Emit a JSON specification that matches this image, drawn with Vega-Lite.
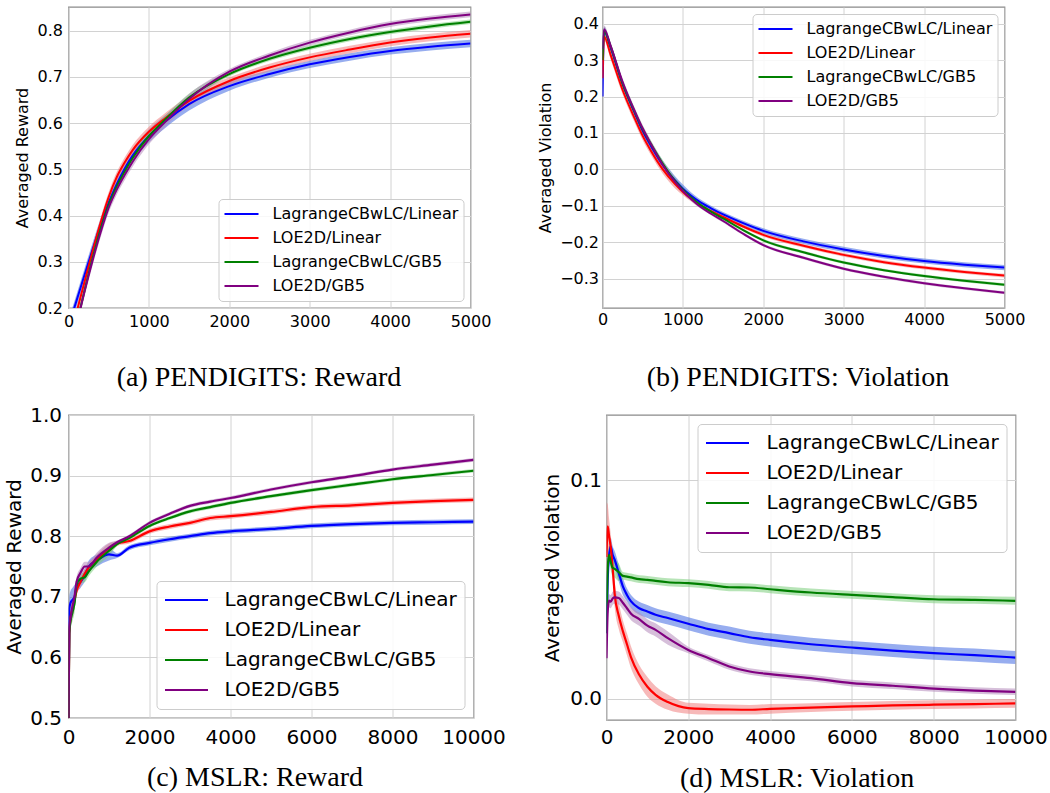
{
"$schema": "https://vega.github.io/schema/vega-lite/v6.json",
"background": "white",
"padding": {"left": 3.5, "top": 6, "right": 0, "bottom": 0},
"columns": 1,
"spacing": 12,
"align": "none",
"config": {
  "view": {"stroke": "#8a8a8a", "strokeWidth": 1.3},
  "axis": {"grid": true, "gridColor": "#d2d2d2", "gridWidth": 1, "domain": false, "ticks": false, "tickSize": 0, "labelFont": "DejaVu Sans", "titleFont": "DejaVu Sans", "labelColor": "#000000", "titleColor": "#000000", "titleFontWeight": "normal", "labelFlush": false, "labelOverlap": false},
  "legend": {"labelFont": "DejaVu Sans", "labelColor": "#000000", "symbolType": "stroke", "labelLimit": 500, "fillColor": "rgba(255,255,255,0.85)", "strokeColor": "#cccccc", "cornerRadius": 4}
},
"concat": [
{"hconcat": [
{
 "width": 402, "height": 301,
 "data": {"name": "a"},
 "encoding": {"x": {"field": "x", "type": "quantitative", "scale": {"domain": [0, 5000], "nice": false, "zero": false},
   "axis": {"values": [0,1000,2000,3000,4000,5000], "format": "d", "labelFontSize": 16, "labelPadding": 5, "title": "(a) PENDIGITS: Reward", "titleFont": "Liberation Serif", "titleFontSize": 28, "titlePadding": 34, "titleX": 190}}},
 "layer": [
  {"mark": {"type": "area", "clip": true, "interpolate": "monotone", "fillOpacity": 0.55},
   "encoding": {"y": {"field": "lo", "type": "quantitative", "scale": {"domain": [0.2, 0.851], "nice": false, "zero": false},
     "axis": {"values": [0.2,0.3,0.4,0.5,0.6,0.7,0.8], "format": ".1f", "labelFontSize": 16, "labelPadding": 6, "title": "Averaged Reward", "titleFontSize": 16, "titlePadding": 6.6}},
     "y2": {"field": "hi"},
     "fill": {"field": "s", "type": "nominal", "scale": {"domain": ["LagrangeCBwLC/Linear","LOE2D/Linear","LagrangeCBwLC/GB5","LOE2D/GB5"], "range": ["#4169e1","#f08080","#7ccd7c","#b58bbb"]}, "legend": null}}},
  {"mark": {"type": "line", "clip": true, "interpolate": "monotone", "strokeWidth": 2},
   "encoding": {"y": {"field": "y", "type": "quantitative", "scale": {"domain": [0.2, 0.851], "nice": false, "zero": false},
     "axis": {"values": [0.2,0.3,0.4,0.5,0.6,0.7,0.8], "format": ".1f", "labelFontSize": 16, "labelPadding": 6, "title": "Averaged Reward", "titleFontSize": 16, "titlePadding": 6.6}},
     "stroke": {"field": "s", "type": "nominal", "scale": {"domain": ["LagrangeCBwLC/Linear","LOE2D/Linear","LagrangeCBwLC/GB5","LOE2D/GB5"], "range": ["#0000ff","#ff0000","#008000","#800080"]},
       "legend": {"title": null, "orient": "bottom-right", "offset": 7, "labelFontSize": 16, "symbolSize": 1156, "symbolStrokeWidth": 2, "labelOffset": 13, "clipHeight": 20, "rowPadding": 4, "padding": 5}}}}
 ]
},
{
 "width": 402, "height": 301,
 "data": {"name": "b"},
 "encoding": {"x": {"field": "x", "type": "quantitative", "scale": {"domain": [0, 5000], "nice": false, "zero": false},
   "axis": {"values": [0,1000,2000,3000,4000,5000], "format": "d", "labelFontSize": 16, "labelPadding": 3, "title": "(b) PENDIGITS: Violation", "titleFont": "Liberation Serif", "titleFontSize": 28, "titlePadding": 36, "titleX": 195}}},
 "layer": [
  {"mark": {"type": "area", "clip": true, "interpolate": "monotone", "fillOpacity": 0.55},
   "encoding": {"y": {"field": "lo", "type": "quantitative", "scale": {"domain": [-0.381, 0.446], "nice": false, "zero": false},
     "axis": {"values": [-0.3,-0.2,-0.1,0,0.1,0.2,0.3,0.4], "format": ".1f", "labelExpr": "replace(datum.label, '-', '−')", "labelFontSize": 16, "labelPadding": 4, "title": "Averaged Violation", "titleFontSize": 16, "titlePadding": 6}},
     "y2": {"field": "hi"},
     "fill": {"field": "s", "type": "nominal", "scale": {"domain": ["LagrangeCBwLC/Linear","LOE2D/Linear","LagrangeCBwLC/GB5","LOE2D/GB5"], "range": ["#4169e1","#f08080","#7ccd7c","#b58bbb"]}, "legend": null}}},
  {"mark": {"type": "line", "clip": true, "interpolate": "monotone", "strokeWidth": 2},
   "encoding": {"y": {"field": "y", "type": "quantitative", "scale": {"domain": [-0.381, 0.446], "nice": false, "zero": false},
     "axis": {"values": [-0.3,-0.2,-0.1,0,0.1,0.2,0.3,0.4], "format": ".1f", "labelExpr": "replace(datum.label, '-', '−')", "labelFontSize": 16, "labelPadding": 4, "title": "Averaged Violation", "titleFontSize": 16, "titlePadding": 6}},
     "stroke": {"field": "s", "type": "nominal", "scale": {"domain": ["LagrangeCBwLC/Linear","LOE2D/Linear","LagrangeCBwLC/GB5","LOE2D/GB5"], "range": ["#0000ff","#ff0000","#008000","#800080"]},
       "legend": {"title": null, "orient": "top-right", "offset": 7, "labelFontSize": 16, "symbolSize": 1156, "symbolStrokeWidth": 2, "labelOffset": 13, "clipHeight": 20, "rowPadding": 4, "padding": 5}}}}
 ]
}
], "spacing": 44},
{"hconcat": [
{
 "width": 405, "height": 303,
 "data": {"name": "c"},
 "encoding": {"x": {"field": "x", "type": "quantitative", "scale": {"domain": [0, 10000], "nice": false, "zero": false},
   "axis": {"values": [0,2000,4000,6000,8000,10000], "format": "d", "labelFontSize": 20, "labelPadding": 9, "title": "(c) MSLR: Reward", "titleFont": "Liberation Serif", "titleFontSize": 28, "titlePadding": 16, "titleX": 186}}},
 "layer": [
  {"mark": {"type": "area", "clip": true, "interpolate": "monotone", "fillOpacity": 0.55},
   "encoding": {"y": {"field": "lo", "type": "quantitative", "scale": {"domain": [0.5, 1.0], "nice": false, "zero": false},
     "axis": {"values": [0.5,0.6,0.7,0.8,0.9,1.0], "format": ".1f", "labelFontSize": 20, "labelPadding": 7, "title": "Averaged Reward", "titleFontSize": 20, "titlePadding": 5.5}},
     "y2": {"field": "hi"},
     "fill": {"field": "s", "type": "nominal", "scale": {"domain": ["LagrangeCBwLC/Linear","LOE2D/Linear","LagrangeCBwLC/GB5","LOE2D/GB5"], "range": ["#4169e1","#f08080","#7ccd7c","#b58bbb"]}, "legend": null}}},
  {"mark": {"type": "line", "clip": true, "interpolate": "monotone", "strokeWidth": 2.2},
   "encoding": {"y": {"field": "y", "type": "quantitative", "scale": {"domain": [0.5, 1.0], "nice": false, "zero": false},
     "axis": {"values": [0.5,0.6,0.7,0.8,0.9,1.0], "format": ".1f", "labelFontSize": 20, "labelPadding": 7, "title": "Averaged Reward", "titleFontSize": 20, "titlePadding": 5.5}},
     "stroke": {"field": "s", "type": "nominal", "scale": {"domain": ["LagrangeCBwLC/Linear","LOE2D/Linear","LagrangeCBwLC/GB5","LOE2D/GB5"], "range": ["#0000ff","#ff0000","#008000","#800080"]},
       "legend": {"title": null, "orient": "bottom-right", "offset": 9, "labelFontSize": 20, "symbolSize": 1849, "symbolStrokeWidth": 2.2, "labelOffset": 15, "clipHeight": 24, "rowPadding": 6, "padding": 7}}}}
 ]
},
{
 "width": 409, "height": 305,
 "data": {"name": "d"},
 "encoding": {"x": {"field": "x", "type": "quantitative", "scale": {"domain": [0, 10000], "nice": false, "zero": false},
   "axis": {"values": [0,2000,4000,6000,8000,10000], "format": "d", "labelFontSize": 20, "labelPadding": 7, "title": "(d) MSLR: Violation", "titleFont": "Liberation Serif", "titleFontSize": 28, "titlePadding": 17, "titleX": 190}}},
 "layer": [
  {"mark": {"type": "area", "clip": true, "interpolate": "monotone", "fillOpacity": 0.55},
   "encoding": {"y": {"field": "lo", "type": "quantitative", "scale": {"domain": [-0.0097, 0.130], "nice": false, "zero": false},
     "axis": {"values": [0, 0.1], "format": ".1f", "labelFontSize": 20, "labelPadding": 5, "title": "Averaged Violation", "titleFontSize": 20, "titlePadding": 7}},
     "y2": {"field": "hi"},
     "fill": {"field": "s", "type": "nominal", "scale": {"domain": ["LagrangeCBwLC/Linear","LOE2D/Linear","LagrangeCBwLC/GB5","LOE2D/GB5"], "range": ["#4169e1","#f08080","#7ccd7c","#b58bbb"]}, "legend": null}}},
  {"mark": {"type": "line", "clip": true, "interpolate": "monotone", "strokeWidth": 2.2},
   "encoding": {"y": {"field": "y", "type": "quantitative", "scale": {"domain": [-0.0097, 0.130], "nice": false, "zero": false},
     "axis": {"values": [0, 0.1], "format": ".1f", "labelFontSize": 20, "labelPadding": 5, "title": "Averaged Violation", "titleFontSize": 20, "titlePadding": 7}},
     "stroke": {"field": "s", "type": "nominal", "scale": {"domain": ["LagrangeCBwLC/Linear","LOE2D/Linear","LagrangeCBwLC/GB5","LOE2D/GB5"], "range": ["#0000ff","#ff0000","#008000","#800080"]},
       "legend": {"title": null, "orient": "top-right", "offset": 9, "labelFontSize": 20, "symbolSize": 1849, "symbolStrokeWidth": 2.2, "labelOffset": 16, "clipHeight": 24, "rowPadding": 6, "padding": 7}}}}
 ]
}
], "spacing": 35}
],
"datasets": {
"a": [
{"s":"LagrangeCBwLC/Linear","x":0,"y":0.16,"lo":0.146,"hi":0.174},
{"s":"LagrangeCBwLC/Linear","x":100,"y":0.216,"lo":0.202,"hi":0.23},
{"s":"LagrangeCBwLC/Linear","x":200,"y":0.272,"lo":0.258,"hi":0.286},
{"s":"LagrangeCBwLC/Linear","x":300,"y":0.327,"lo":0.313,"hi":0.341},
{"s":"LagrangeCBwLC/Linear","x":400,"y":0.38,"lo":0.366,"hi":0.394},
{"s":"LagrangeCBwLC/Linear","x":500,"y":0.428,"lo":0.414,"hi":0.442},
{"s":"LagrangeCBwLC/Linear","x":600,"y":0.468,"lo":0.454,"hi":0.482},
{"s":"LagrangeCBwLC/Linear","x":700,"y":0.502,"lo":0.488,"hi":0.516},
{"s":"LagrangeCBwLC/Linear","x":800,"y":0.53,"lo":0.516,"hi":0.544},
{"s":"LagrangeCBwLC/Linear","x":1000,"y":0.572,"lo":0.558,"hi":0.586},
{"s":"LagrangeCBwLC/Linear","x":1200,"y":0.603,"lo":0.589,"hi":0.617},
{"s":"LagrangeCBwLC/Linear","x":1500,"y":0.641,"lo":0.627,"hi":0.655},
{"s":"LagrangeCBwLC/Linear","x":2000,"y":0.68,"lo":0.67,"hi":0.69},
{"s":"LagrangeCBwLC/Linear","x":2500,"y":0.706,"lo":0.698,"hi":0.714},
{"s":"LagrangeCBwLC/Linear","x":3000,"y":0.727,"lo":0.719,"hi":0.735},
{"s":"LagrangeCBwLC/Linear","x":3500,"y":0.743,"lo":0.735,"hi":0.751},
{"s":"LagrangeCBwLC/Linear","x":4000,"y":0.756,"lo":0.748,"hi":0.764},
{"s":"LagrangeCBwLC/Linear","x":4500,"y":0.765,"lo":0.757,"hi":0.773},
{"s":"LagrangeCBwLC/Linear","x":5000,"y":0.772,"lo":0.764,"hi":0.78},
{"s":"LOE2D/Linear","x":0,"y":0.123,"lo":0.112,"hi":0.134},
{"s":"LOE2D/Linear","x":100,"y":0.19,"lo":0.179,"hi":0.201},
{"s":"LOE2D/Linear","x":200,"y":0.257,"lo":0.246,"hi":0.268},
{"s":"LOE2D/Linear","x":300,"y":0.323,"lo":0.312,"hi":0.334},
{"s":"LOE2D/Linear","x":400,"y":0.385,"lo":0.374,"hi":0.396},
{"s":"LOE2D/Linear","x":500,"y":0.44,"lo":0.429,"hi":0.451},
{"s":"LOE2D/Linear","x":600,"y":0.483,"lo":0.472,"hi":0.494},
{"s":"LOE2D/Linear","x":700,"y":0.515,"lo":0.504,"hi":0.526},
{"s":"LOE2D/Linear","x":800,"y":0.542,"lo":0.531,"hi":0.553},
{"s":"LOE2D/Linear","x":1000,"y":0.581,"lo":0.57,"hi":0.592},
{"s":"LOE2D/Linear","x":1200,"y":0.61,"lo":0.599,"hi":0.621},
{"s":"LOE2D/Linear","x":1500,"y":0.648,"lo":0.637,"hi":0.659},
{"s":"LOE2D/Linear","x":2000,"y":0.691,"lo":0.683,"hi":0.699},
{"s":"LOE2D/Linear","x":2500,"y":0.72,"lo":0.712,"hi":0.728},
{"s":"LOE2D/Linear","x":3000,"y":0.742,"lo":0.734,"hi":0.75},
{"s":"LOE2D/Linear","x":3500,"y":0.759,"lo":0.751,"hi":0.767},
{"s":"LOE2D/Linear","x":4000,"y":0.774,"lo":0.766,"hi":0.782},
{"s":"LOE2D/Linear","x":4500,"y":0.785,"lo":0.777,"hi":0.793},
{"s":"LOE2D/Linear","x":5000,"y":0.793,"lo":0.785,"hi":0.801},
{"s":"LagrangeCBwLC/GB5","x":0,"y":0.092,"lo":0.083,"hi":0.101},
{"s":"LagrangeCBwLC/GB5","x":100,"y":0.165,"lo":0.156,"hi":0.174},
{"s":"LagrangeCBwLC/GB5","x":200,"y":0.238,"lo":0.229,"hi":0.247},
{"s":"LagrangeCBwLC/GB5","x":300,"y":0.308,"lo":0.299,"hi":0.317},
{"s":"LagrangeCBwLC/GB5","x":400,"y":0.37,"lo":0.361,"hi":0.379},
{"s":"LagrangeCBwLC/GB5","x":500,"y":0.423,"lo":0.414,"hi":0.432},
{"s":"LagrangeCBwLC/GB5","x":600,"y":0.463,"lo":0.454,"hi":0.472},
{"s":"LagrangeCBwLC/GB5","x":700,"y":0.496,"lo":0.487,"hi":0.505},
{"s":"LagrangeCBwLC/GB5","x":800,"y":0.525,"lo":0.516,"hi":0.534},
{"s":"LagrangeCBwLC/GB5","x":1000,"y":0.572,"lo":0.563,"hi":0.581},
{"s":"LagrangeCBwLC/GB5","x":1200,"y":0.607,"lo":0.598,"hi":0.616},
{"s":"LagrangeCBwLC/GB5","x":1500,"y":0.655,"lo":0.646,"hi":0.664},
{"s":"LagrangeCBwLC/GB5","x":2000,"y":0.706,"lo":0.701,"hi":0.711},
{"s":"LagrangeCBwLC/GB5","x":2500,"y":0.739,"lo":0.734,"hi":0.744},
{"s":"LagrangeCBwLC/GB5","x":3000,"y":0.763,"lo":0.758,"hi":0.768},
{"s":"LagrangeCBwLC/GB5","x":3500,"y":0.782,"lo":0.777,"hi":0.787},
{"s":"LagrangeCBwLC/GB5","x":4000,"y":0.797,"lo":0.792,"hi":0.802},
{"s":"LagrangeCBwLC/GB5","x":4500,"y":0.809,"lo":0.804,"hi":0.814},
{"s":"LagrangeCBwLC/GB5","x":5000,"y":0.819,"lo":0.814,"hi":0.824},
{"s":"LOE2D/GB5","x":0,"y":0.09,"lo":0.079,"hi":0.101},
{"s":"LOE2D/GB5","x":100,"y":0.163,"lo":0.152,"hi":0.174},
{"s":"LOE2D/GB5","x":200,"y":0.236,"lo":0.225,"hi":0.247},
{"s":"LOE2D/GB5","x":300,"y":0.303,"lo":0.292,"hi":0.314},
{"s":"LOE2D/GB5","x":400,"y":0.364,"lo":0.353,"hi":0.375},
{"s":"LOE2D/GB5","x":500,"y":0.417,"lo":0.406,"hi":0.428},
{"s":"LOE2D/GB5","x":600,"y":0.456,"lo":0.445,"hi":0.467},
{"s":"LOE2D/GB5","x":700,"y":0.488,"lo":0.477,"hi":0.499},
{"s":"LOE2D/GB5","x":800,"y":0.517,"lo":0.506,"hi":0.528},
{"s":"LOE2D/GB5","x":1000,"y":0.565,"lo":0.554,"hi":0.576},
{"s":"LOE2D/GB5","x":1200,"y":0.602,"lo":0.591,"hi":0.613},
{"s":"LOE2D/GB5","x":1500,"y":0.652,"lo":0.641,"hi":0.663},
{"s":"LOE2D/GB5","x":2000,"y":0.711,"lo":0.705,"hi":0.717},
{"s":"LOE2D/GB5","x":2500,"y":0.746,"lo":0.74,"hi":0.752},
{"s":"LOE2D/GB5","x":3000,"y":0.774,"lo":0.768,"hi":0.78},
{"s":"LOE2D/GB5","x":3500,"y":0.796,"lo":0.79,"hi":0.802},
{"s":"LOE2D/GB5","x":4000,"y":0.814,"lo":0.808,"hi":0.82},
{"s":"LOE2D/GB5","x":4500,"y":0.826,"lo":0.82,"hi":0.832},
{"s":"LOE2D/GB5","x":5000,"y":0.835,"lo":0.829,"hi":0.841}
],
"b": [
{"s":"LagrangeCBwLC/Linear","x":0,"y":0.2,"lo":0.188,"hi":0.212},
{"s":"LagrangeCBwLC/Linear","x":20,"y":0.38,"lo":0.368,"hi":0.392},
{"s":"LagrangeCBwLC/Linear","x":100,"y":0.335,"lo":0.323,"hi":0.347},
{"s":"LagrangeCBwLC/Linear","x":250,"y":0.234,"lo":0.222,"hi":0.246},
{"s":"LagrangeCBwLC/Linear","x":400,"y":0.155,"lo":0.143,"hi":0.167},
{"s":"LagrangeCBwLC/Linear","x":500,"y":0.105,"lo":0.093,"hi":0.117},
{"s":"LagrangeCBwLC/Linear","x":600,"y":0.065,"lo":0.053,"hi":0.077},
{"s":"LagrangeCBwLC/Linear","x":750,"y":0.012,"lo":0.0,"hi":0.024},
{"s":"LagrangeCBwLC/Linear","x":900,"y":-0.03,"lo":-0.042,"hi":-0.018},
{"s":"LagrangeCBwLC/Linear","x":1000,"y":-0.053,"lo":-0.064,"hi":-0.042},
{"s":"LagrangeCBwLC/Linear","x":1100,"y":-0.072,"lo":-0.081,"hi":-0.063},
{"s":"LagrangeCBwLC/Linear","x":1200,"y":-0.088,"lo":-0.096,"hi":-0.08},
{"s":"LagrangeCBwLC/Linear","x":1350,"y":-0.107,"lo":-0.114,"hi":-0.1},
{"s":"LagrangeCBwLC/Linear","x":1500,"y":-0.124,"lo":-0.131,"hi":-0.117},
{"s":"LagrangeCBwLC/Linear","x":1750,"y":-0.148,"lo":-0.155,"hi":-0.141},
{"s":"LagrangeCBwLC/Linear","x":2000,"y":-0.169,"lo":-0.176,"hi":-0.162},
{"s":"LagrangeCBwLC/Linear","x":2500,"y":-0.198,"lo":-0.205,"hi":-0.191},
{"s":"LagrangeCBwLC/Linear","x":3000,"y":-0.22,"lo":-0.227,"hi":-0.213},
{"s":"LagrangeCBwLC/Linear","x":3500,"y":-0.238,"lo":-0.245,"hi":-0.231},
{"s":"LagrangeCBwLC/Linear","x":4000,"y":-0.252,"lo":-0.259,"hi":-0.245},
{"s":"LagrangeCBwLC/Linear","x":4500,"y":-0.262,"lo":-0.269,"hi":-0.255},
{"s":"LagrangeCBwLC/Linear","x":5000,"y":-0.27,"lo":-0.277,"hi":-0.263},
{"s":"LOE2D/Linear","x":0,"y":0.25,"lo":0.238,"hi":0.262},
{"s":"LOE2D/Linear","x":20,"y":0.365,"lo":0.353,"hi":0.377},
{"s":"LOE2D/Linear","x":100,"y":0.315,"lo":0.303,"hi":0.327},
{"s":"LOE2D/Linear","x":250,"y":0.218,"lo":0.206,"hi":0.23},
{"s":"LOE2D/Linear","x":400,"y":0.14,"lo":0.128,"hi":0.152},
{"s":"LOE2D/Linear","x":500,"y":0.092,"lo":0.08,"hi":0.104},
{"s":"LOE2D/Linear","x":600,"y":0.052,"lo":0.04,"hi":0.064},
{"s":"LOE2D/Linear","x":750,"y":0.0,"lo":-0.012,"hi":0.012},
{"s":"LOE2D/Linear","x":900,"y":-0.04,"lo":-0.052,"hi":-0.028},
{"s":"LOE2D/Linear","x":1000,"y":-0.062,"lo":-0.071,"hi":-0.053},
{"s":"LOE2D/Linear","x":1100,"y":-0.081,"lo":-0.088,"hi":-0.074},
{"s":"LOE2D/Linear","x":1200,"y":-0.097,"lo":-0.103,"hi":-0.091},
{"s":"LOE2D/Linear","x":1350,"y":-0.115,"lo":-0.12,"hi":-0.11},
{"s":"LOE2D/Linear","x":1500,"y":-0.131,"lo":-0.136,"hi":-0.126},
{"s":"LOE2D/Linear","x":1750,"y":-0.157,"lo":-0.162,"hi":-0.152},
{"s":"LOE2D/Linear","x":2000,"y":-0.18,"lo":-0.185,"hi":-0.175},
{"s":"LOE2D/Linear","x":2500,"y":-0.21,"lo":-0.215,"hi":-0.205},
{"s":"LOE2D/Linear","x":3000,"y":-0.235,"lo":-0.24,"hi":-0.23},
{"s":"LOE2D/Linear","x":3500,"y":-0.255,"lo":-0.26,"hi":-0.25},
{"s":"LOE2D/Linear","x":4000,"y":-0.27,"lo":-0.275,"hi":-0.265},
{"s":"LOE2D/Linear","x":4500,"y":-0.282,"lo":-0.287,"hi":-0.277},
{"s":"LOE2D/Linear","x":5000,"y":-0.292,"lo":-0.297,"hi":-0.287},
{"s":"LagrangeCBwLC/GB5","x":0,"y":0.3,"lo":0.29,"hi":0.31},
{"s":"LagrangeCBwLC/GB5","x":20,"y":0.38,"lo":0.37,"hi":0.39},
{"s":"LagrangeCBwLC/GB5","x":100,"y":0.338,"lo":0.328,"hi":0.348},
{"s":"LagrangeCBwLC/GB5","x":250,"y":0.236,"lo":0.226,"hi":0.246},
{"s":"LagrangeCBwLC/GB5","x":400,"y":0.158,"lo":0.148,"hi":0.168},
{"s":"LagrangeCBwLC/GB5","x":500,"y":0.11,"lo":0.1,"hi":0.12},
{"s":"LagrangeCBwLC/GB5","x":600,"y":0.07,"lo":0.06,"hi":0.08},
{"s":"LagrangeCBwLC/GB5","x":750,"y":0.015,"lo":0.005,"hi":0.025},
{"s":"LagrangeCBwLC/GB5","x":900,"y":-0.032,"lo":-0.042,"hi":-0.022},
{"s":"LagrangeCBwLC/GB5","x":1000,"y":-0.056,"lo":-0.064,"hi":-0.048},
{"s":"LagrangeCBwLC/GB5","x":1100,"y":-0.077,"lo":-0.083,"hi":-0.071},
{"s":"LagrangeCBwLC/GB5","x":1200,"y":-0.095,"lo":-0.1,"hi":-0.09},
{"s":"LagrangeCBwLC/GB5","x":1350,"y":-0.116,"lo":-0.12,"hi":-0.112},
{"s":"LagrangeCBwLC/GB5","x":1500,"y":-0.135,"lo":-0.139,"hi":-0.131},
{"s":"LagrangeCBwLC/GB5","x":1750,"y":-0.167,"lo":-0.171,"hi":-0.163},
{"s":"LagrangeCBwLC/GB5","x":2000,"y":-0.195,"lo":-0.199,"hi":-0.191},
{"s":"LagrangeCBwLC/GB5","x":2500,"y":-0.228,"lo":-0.232,"hi":-0.224},
{"s":"LagrangeCBwLC/GB5","x":3000,"y":-0.256,"lo":-0.26,"hi":-0.252},
{"s":"LagrangeCBwLC/GB5","x":3500,"y":-0.277,"lo":-0.281,"hi":-0.273},
{"s":"LagrangeCBwLC/GB5","x":4000,"y":-0.293,"lo":-0.297,"hi":-0.289},
{"s":"LagrangeCBwLC/GB5","x":4500,"y":-0.306,"lo":-0.31,"hi":-0.302},
{"s":"LagrangeCBwLC/GB5","x":5000,"y":-0.317,"lo":-0.321,"hi":-0.313},
{"s":"LOE2D/GB5","x":0,"y":0.33,"lo":0.32,"hi":0.34},
{"s":"LOE2D/GB5","x":20,"y":0.385,"lo":0.375,"hi":0.395},
{"s":"LOE2D/GB5","x":100,"y":0.34,"lo":0.33,"hi":0.35},
{"s":"LOE2D/GB5","x":250,"y":0.24,"lo":0.23,"hi":0.25},
{"s":"LOE2D/GB5","x":400,"y":0.16,"lo":0.15,"hi":0.17},
{"s":"LOE2D/GB5","x":500,"y":0.112,"lo":0.102,"hi":0.122},
{"s":"LOE2D/GB5","x":600,"y":0.07,"lo":0.06,"hi":0.08},
{"s":"LOE2D/GB5","x":750,"y":0.012,"lo":0.002,"hi":0.022},
{"s":"LOE2D/GB5","x":900,"y":-0.034,"lo":-0.044,"hi":-0.024},
{"s":"LOE2D/GB5","x":1000,"y":-0.059,"lo":-0.067,"hi":-0.051},
{"s":"LOE2D/GB5","x":1100,"y":-0.081,"lo":-0.087,"hi":-0.075},
{"s":"LOE2D/GB5","x":1200,"y":-0.1,"lo":-0.105,"hi":-0.095},
{"s":"LOE2D/GB5","x":1350,"y":-0.122,"lo":-0.126,"hi":-0.118},
{"s":"LOE2D/GB5","x":1500,"y":-0.142,"lo":-0.146,"hi":-0.138},
{"s":"LOE2D/GB5","x":1750,"y":-0.177,"lo":-0.181,"hi":-0.173},
{"s":"LOE2D/GB5","x":2000,"y":-0.208,"lo":-0.212,"hi":-0.204},
{"s":"LOE2D/GB5","x":2500,"y":-0.243,"lo":-0.247,"hi":-0.239},
{"s":"LOE2D/GB5","x":3000,"y":-0.273,"lo":-0.277,"hi":-0.269},
{"s":"LOE2D/GB5","x":3500,"y":-0.295,"lo":-0.299,"hi":-0.291},
{"s":"LOE2D/GB5","x":4000,"y":-0.313,"lo":-0.317,"hi":-0.309},
{"s":"LOE2D/GB5","x":4500,"y":-0.327,"lo":-0.331,"hi":-0.323},
{"s":"LOE2D/GB5","x":5000,"y":-0.339,"lo":-0.343,"hi":-0.335}
],
"c": [
{"s":"LagrangeCBwLC/Linear","x":0,"y":0.5,"lo":0.49,"hi":0.51},
{"s":"LagrangeCBwLC/Linear","x":20,"y":0.68,"lo":0.66,"hi":0.7},
{"s":"LagrangeCBwLC/Linear","x":50,"y":0.69,"lo":0.67,"hi":0.71},
{"s":"LagrangeCBwLC/Linear","x":100,"y":0.695,"lo":0.675,"hi":0.715},
{"s":"LagrangeCBwLC/Linear","x":150,"y":0.7,"lo":0.68,"hi":0.72},
{"s":"LagrangeCBwLC/Linear","x":200,"y":0.715,"lo":0.705,"hi":0.725},
{"s":"LagrangeCBwLC/Linear","x":300,"y":0.725,"lo":0.715,"hi":0.735},
{"s":"LagrangeCBwLC/Linear","x":400,"y":0.735,"lo":0.725,"hi":0.745},
{"s":"LagrangeCBwLC/Linear","x":500,"y":0.75,"lo":0.74,"hi":0.76},
{"s":"LagrangeCBwLC/Linear","x":700,"y":0.76,"lo":0.75,"hi":0.77},
{"s":"LagrangeCBwLC/Linear","x":1000,"y":0.77,"lo":0.76,"hi":0.78},
{"s":"LagrangeCBwLC/Linear","x":1200,"y":0.768,"lo":0.764,"hi":0.772},
{"s":"LagrangeCBwLC/Linear","x":1500,"y":0.781,"lo":0.777,"hi":0.785},
{"s":"LagrangeCBwLC/Linear","x":2000,"y":0.789,"lo":0.785,"hi":0.793},
{"s":"LagrangeCBwLC/Linear","x":2500,"y":0.795,"lo":0.791,"hi":0.799},
{"s":"LagrangeCBwLC/Linear","x":3000,"y":0.8,"lo":0.796,"hi":0.804},
{"s":"LagrangeCBwLC/Linear","x":3500,"y":0.805,"lo":0.801,"hi":0.809},
{"s":"LagrangeCBwLC/Linear","x":4000,"y":0.808,"lo":0.804,"hi":0.812},
{"s":"LagrangeCBwLC/Linear","x":5000,"y":0.812,"lo":0.808,"hi":0.816},
{"s":"LagrangeCBwLC/Linear","x":6000,"y":0.817,"lo":0.813,"hi":0.821},
{"s":"LagrangeCBwLC/Linear","x":7000,"y":0.82,"lo":0.816,"hi":0.824},
{"s":"LagrangeCBwLC/Linear","x":8000,"y":0.822,"lo":0.818,"hi":0.826},
{"s":"LagrangeCBwLC/Linear","x":9000,"y":0.823,"lo":0.819,"hi":0.827},
{"s":"LagrangeCBwLC/Linear","x":10000,"y":0.824,"lo":0.82,"hi":0.828},
{"s":"LOE2D/Linear","x":0,"y":0.5,"lo":0.49,"hi":0.51},
{"s":"LOE2D/Linear","x":20,"y":0.64,"lo":0.625,"hi":0.655},
{"s":"LOE2D/Linear","x":50,"y":0.665,"lo":0.65,"hi":0.68},
{"s":"LOE2D/Linear","x":100,"y":0.68,"lo":0.665,"hi":0.695},
{"s":"LOE2D/Linear","x":150,"y":0.695,"lo":0.68,"hi":0.71},
{"s":"LOE2D/Linear","x":200,"y":0.71,"lo":0.702,"hi":0.718},
{"s":"LOE2D/Linear","x":300,"y":0.725,"lo":0.717,"hi":0.733},
{"s":"LOE2D/Linear","x":400,"y":0.738,"lo":0.73,"hi":0.746},
{"s":"LOE2D/Linear","x":500,"y":0.748,"lo":0.74,"hi":0.756},
{"s":"LOE2D/Linear","x":700,"y":0.762,"lo":0.754,"hi":0.77},
{"s":"LOE2D/Linear","x":1000,"y":0.78,"lo":0.772,"hi":0.788},
{"s":"LOE2D/Linear","x":1200,"y":0.788,"lo":0.784,"hi":0.792},
{"s":"LOE2D/Linear","x":1500,"y":0.792,"lo":0.788,"hi":0.796},
{"s":"LOE2D/Linear","x":2000,"y":0.808,"lo":0.804,"hi":0.812},
{"s":"LOE2D/Linear","x":2500,"y":0.816,"lo":0.812,"hi":0.82},
{"s":"LOE2D/Linear","x":3000,"y":0.822,"lo":0.818,"hi":0.826},
{"s":"LOE2D/Linear","x":3500,"y":0.83,"lo":0.826,"hi":0.834},
{"s":"LOE2D/Linear","x":4000,"y":0.833,"lo":0.829,"hi":0.837},
{"s":"LOE2D/Linear","x":5000,"y":0.84,"lo":0.836,"hi":0.844},
{"s":"LOE2D/Linear","x":6000,"y":0.848,"lo":0.844,"hi":0.852},
{"s":"LOE2D/Linear","x":7000,"y":0.851,"lo":0.847,"hi":0.855},
{"s":"LOE2D/Linear","x":8000,"y":0.855,"lo":0.851,"hi":0.859},
{"s":"LOE2D/Linear","x":9000,"y":0.858,"lo":0.854,"hi":0.862},
{"s":"LOE2D/Linear","x":10000,"y":0.86,"lo":0.856,"hi":0.864},
{"s":"LagrangeCBwLC/GB5","x":0,"y":0.5,"lo":0.49,"hi":0.51},
{"s":"LagrangeCBwLC/GB5","x":20,"y":0.64,"lo":0.625,"hi":0.655},
{"s":"LagrangeCBwLC/GB5","x":50,"y":0.66,"lo":0.645,"hi":0.675},
{"s":"LagrangeCBwLC/GB5","x":100,"y":0.675,"lo":0.66,"hi":0.69},
{"s":"LagrangeCBwLC/GB5","x":150,"y":0.69,"lo":0.675,"hi":0.705},
{"s":"LagrangeCBwLC/GB5","x":200,"y":0.72,"lo":0.712,"hi":0.728},
{"s":"LagrangeCBwLC/GB5","x":300,"y":0.73,"lo":0.722,"hi":0.738},
{"s":"LagrangeCBwLC/GB5","x":400,"y":0.732,"lo":0.724,"hi":0.74},
{"s":"LagrangeCBwLC/GB5","x":500,"y":0.742,"lo":0.734,"hi":0.75},
{"s":"LagrangeCBwLC/GB5","x":700,"y":0.758,"lo":0.75,"hi":0.766},
{"s":"LagrangeCBwLC/GB5","x":1000,"y":0.776,"lo":0.768,"hi":0.784},
{"s":"LagrangeCBwLC/GB5","x":1200,"y":0.787,"lo":0.784,"hi":0.79},
{"s":"LagrangeCBwLC/GB5","x":1500,"y":0.797,"lo":0.794,"hi":0.8},
{"s":"LagrangeCBwLC/GB5","x":2000,"y":0.817,"lo":0.814,"hi":0.82},
{"s":"LagrangeCBwLC/GB5","x":2500,"y":0.83,"lo":0.827,"hi":0.833},
{"s":"LagrangeCBwLC/GB5","x":3000,"y":0.841,"lo":0.838,"hi":0.844},
{"s":"LagrangeCBwLC/GB5","x":3500,"y":0.848,"lo":0.845,"hi":0.851},
{"s":"LagrangeCBwLC/GB5","x":4000,"y":0.855,"lo":0.852,"hi":0.858},
{"s":"LagrangeCBwLC/GB5","x":5000,"y":0.866,"lo":0.863,"hi":0.869},
{"s":"LagrangeCBwLC/GB5","x":6000,"y":0.876,"lo":0.873,"hi":0.879},
{"s":"LagrangeCBwLC/GB5","x":7000,"y":0.885,"lo":0.882,"hi":0.888},
{"s":"LagrangeCBwLC/GB5","x":8000,"y":0.894,"lo":0.891,"hi":0.897},
{"s":"LagrangeCBwLC/GB5","x":9000,"y":0.901,"lo":0.898,"hi":0.904},
{"s":"LagrangeCBwLC/GB5","x":10000,"y":0.908,"lo":0.905,"hi":0.911},
{"s":"LOE2D/GB5","x":0,"y":0.5,"lo":0.49,"hi":0.51},
{"s":"LOE2D/GB5","x":20,"y":0.65,"lo":0.635,"hi":0.665},
{"s":"LOE2D/GB5","x":50,"y":0.665,"lo":0.65,"hi":0.68},
{"s":"LOE2D/GB5","x":100,"y":0.685,"lo":0.67,"hi":0.7},
{"s":"LOE2D/GB5","x":150,"y":0.7,"lo":0.685,"hi":0.715},
{"s":"LOE2D/GB5","x":200,"y":0.725,"lo":0.717,"hi":0.733},
{"s":"LOE2D/GB5","x":300,"y":0.74,"lo":0.732,"hi":0.748},
{"s":"LOE2D/GB5","x":400,"y":0.75,"lo":0.742,"hi":0.758},
{"s":"LOE2D/GB5","x":500,"y":0.75,"lo":0.742,"hi":0.758},
{"s":"LOE2D/GB5","x":700,"y":0.765,"lo":0.757,"hi":0.773},
{"s":"LOE2D/GB5","x":1000,"y":0.781,"lo":0.773,"hi":0.789},
{"s":"LOE2D/GB5","x":1200,"y":0.79,"lo":0.787,"hi":0.793},
{"s":"LOE2D/GB5","x":1500,"y":0.8,"lo":0.797,"hi":0.803},
{"s":"LOE2D/GB5","x":2000,"y":0.822,"lo":0.819,"hi":0.825},
{"s":"LOE2D/GB5","x":2500,"y":0.837,"lo":0.834,"hi":0.84},
{"s":"LOE2D/GB5","x":3000,"y":0.85,"lo":0.847,"hi":0.853},
{"s":"LOE2D/GB5","x":3500,"y":0.857,"lo":0.854,"hi":0.86},
{"s":"LOE2D/GB5","x":4000,"y":0.863,"lo":0.86,"hi":0.866},
{"s":"LOE2D/GB5","x":5000,"y":0.877,"lo":0.874,"hi":0.88},
{"s":"LOE2D/GB5","x":6000,"y":0.889,"lo":0.886,"hi":0.892},
{"s":"LOE2D/GB5","x":7000,"y":0.899,"lo":0.896,"hi":0.902},
{"s":"LOE2D/GB5","x":8000,"y":0.91,"lo":0.907,"hi":0.913},
{"s":"LOE2D/GB5","x":9000,"y":0.918,"lo":0.915,"hi":0.921},
{"s":"LOE2D/GB5","x":10000,"y":0.926,"lo":0.923,"hi":0.929}
],
"d": [
{"s":"LagrangeCBwLC/Linear","x":0,"y":0.03,"lo":0.026,"hi":0.034},
{"s":"LagrangeCBwLC/Linear","x":30,"y":0.055,"lo":0.051,"hi":0.059},
{"s":"LagrangeCBwLC/Linear","x":60,"y":0.065,"lo":0.061,"hi":0.069},
{"s":"LagrangeCBwLC/Linear","x":100,"y":0.0698,"lo":0.0658,"hi":0.0738},
{"s":"LagrangeCBwLC/Linear","x":150,"y":0.066,"lo":0.062,"hi":0.07},
{"s":"LagrangeCBwLC/Linear","x":200,"y":0.0637,"lo":0.0597,"hi":0.0677},
{"s":"LagrangeCBwLC/Linear","x":300,"y":0.0576,"lo":0.0536,"hi":0.0616},
{"s":"LagrangeCBwLC/Linear","x":400,"y":0.0515,"lo":0.0475,"hi":0.0555},
{"s":"LagrangeCBwLC/Linear","x":500,"y":0.0476,"lo":0.0446,"hi":0.0506},
{"s":"LagrangeCBwLC/Linear","x":600,"y":0.0446,"lo":0.0416,"hi":0.0476},
{"s":"LagrangeCBwLC/Linear","x":800,"y":0.0415,"lo":0.0385,"hi":0.0445},
{"s":"LagrangeCBwLC/Linear","x":1000,"y":0.04,"lo":0.037,"hi":0.043},
{"s":"LagrangeCBwLC/Linear","x":1200,"y":0.0385,"lo":0.0355,"hi":0.0415},
{"s":"LagrangeCBwLC/Linear","x":1500,"y":0.037,"lo":0.034,"hi":0.04},
{"s":"LagrangeCBwLC/Linear","x":2000,"y":0.0344,"lo":0.0314,"hi":0.0374},
{"s":"LagrangeCBwLC/Linear","x":2500,"y":0.0319,"lo":0.0289,"hi":0.0349},
{"s":"LagrangeCBwLC/Linear","x":3000,"y":0.0301,"lo":0.0271,"hi":0.0331},
{"s":"LagrangeCBwLC/Linear","x":3500,"y":0.0282,"lo":0.0252,"hi":0.0312},
{"s":"LagrangeCBwLC/Linear","x":4000,"y":0.027,"lo":0.024,"hi":0.03},
{"s":"LagrangeCBwLC/Linear","x":5000,"y":0.025,"lo":0.022,"hi":0.028},
{"s":"LagrangeCBwLC/Linear","x":6000,"y":0.0235,"lo":0.0205,"hi":0.0265},
{"s":"LagrangeCBwLC/Linear","x":7000,"y":0.0221,"lo":0.0191,"hi":0.0251},
{"s":"LagrangeCBwLC/Linear","x":8000,"y":0.0209,"lo":0.0179,"hi":0.0239},
{"s":"LagrangeCBwLC/Linear","x":9000,"y":0.02,"lo":0.017,"hi":0.023},
{"s":"LagrangeCBwLC/Linear","x":10000,"y":0.0189,"lo":0.0159,"hi":0.0219},
{"s":"LOE2D/Linear","x":0,"y":0.065,"lo":0.045,"hi":0.09},
{"s":"LOE2D/Linear","x":30,"y":0.079,"lo":0.069,"hi":0.089},
{"s":"LOE2D/Linear","x":60,"y":0.075,"lo":0.067,"hi":0.083},
{"s":"LOE2D/Linear","x":100,"y":0.07,"lo":0.064,"hi":0.076},
{"s":"LOE2D/Linear","x":150,"y":0.06,"lo":0.054,"hi":0.066},
{"s":"LOE2D/Linear","x":200,"y":0.048,"lo":0.042,"hi":0.054},
{"s":"LOE2D/Linear","x":300,"y":0.038,"lo":0.032,"hi":0.044},
{"s":"LOE2D/Linear","x":400,"y":0.031,"lo":0.026,"hi":0.036},
{"s":"LOE2D/Linear","x":500,"y":0.025,"lo":0.02,"hi":0.03},
{"s":"LOE2D/Linear","x":600,"y":0.019,"lo":0.014,"hi":0.024},
{"s":"LOE2D/Linear","x":800,"y":0.011,"lo":0.0065,"hi":0.0155},
{"s":"LOE2D/Linear","x":1000,"y":0.0055,"lo":0.001,"hi":0.01},
{"s":"LOE2D/Linear","x":1200,"y":0.0018,"lo":-0.0022,"hi":0.0058},
{"s":"LOE2D/Linear","x":1500,"y":-0.0015,"lo":-0.005,"hi":0.002},
{"s":"LOE2D/Linear","x":2000,"y":-0.0043,"lo":-0.0068,"hi":-0.0018},
{"s":"LOE2D/Linear","x":2500,"y":-0.0047,"lo":-0.0072,"hi":-0.0022},
{"s":"LOE2D/Linear","x":3000,"y":-0.0049,"lo":-0.0072,"hi":-0.0026},
{"s":"LOE2D/Linear","x":3500,"y":-0.005,"lo":-0.0072,"hi":-0.0028},
{"s":"LOE2D/Linear","x":4000,"y":-0.0046,"lo":-0.0068,"hi":-0.0024},
{"s":"LOE2D/Linear","x":5000,"y":-0.004,"lo":-0.006,"hi":-0.002},
{"s":"LOE2D/Linear","x":6000,"y":-0.0035,"lo":-0.0055,"hi":-0.0015},
{"s":"LOE2D/Linear","x":7000,"y":-0.003,"lo":-0.005,"hi":-0.001},
{"s":"LOE2D/Linear","x":8000,"y":-0.0027,"lo":-0.0047,"hi":-0.0007},
{"s":"LOE2D/Linear","x":9000,"y":-0.0024,"lo":-0.0044,"hi":-0.0004},
{"s":"LOE2D/Linear","x":10000,"y":-0.0021,"lo":-0.0041,"hi":-0.0001},
{"s":"LagrangeCBwLC/GB5","x":0,"y":0.03,"lo":0.026,"hi":0.034},
{"s":"LagrangeCBwLC/GB5","x":30,"y":0.06,"lo":0.056,"hi":0.064},
{"s":"LagrangeCBwLC/GB5","x":60,"y":0.066,"lo":0.062,"hi":0.07},
{"s":"LagrangeCBwLC/GB5","x":100,"y":0.063,"lo":0.059,"hi":0.067},
{"s":"LagrangeCBwLC/GB5","x":150,"y":0.06,"lo":0.056,"hi":0.064},
{"s":"LagrangeCBwLC/GB5","x":200,"y":0.0595,"lo":0.0555,"hi":0.0635},
{"s":"LagrangeCBwLC/GB5","x":300,"y":0.058,"lo":0.054,"hi":0.062},
{"s":"LagrangeCBwLC/GB5","x":400,"y":0.0563,"lo":0.0545,"hi":0.0581},
{"s":"LagrangeCBwLC/GB5","x":500,"y":0.056,"lo":0.0542,"hi":0.0578},
{"s":"LagrangeCBwLC/GB5","x":600,"y":0.0556,"lo":0.0538,"hi":0.0574},
{"s":"LagrangeCBwLC/GB5","x":800,"y":0.0548,"lo":0.053,"hi":0.0566},
{"s":"LagrangeCBwLC/GB5","x":1000,"y":0.0545,"lo":0.0527,"hi":0.0563},
{"s":"LagrangeCBwLC/GB5","x":1200,"y":0.054,"lo":0.0522,"hi":0.0558},
{"s":"LagrangeCBwLC/GB5","x":1500,"y":0.0534,"lo":0.0516,"hi":0.0552},
{"s":"LagrangeCBwLC/GB5","x":2000,"y":0.053,"lo":0.0512,"hi":0.0548},
{"s":"LagrangeCBwLC/GB5","x":2500,"y":0.0522,"lo":0.0504,"hi":0.054},
{"s":"LagrangeCBwLC/GB5","x":3000,"y":0.0511,"lo":0.0493,"hi":0.0529},
{"s":"LagrangeCBwLC/GB5","x":3500,"y":0.051,"lo":0.0492,"hi":0.0528},
{"s":"LagrangeCBwLC/GB5","x":4000,"y":0.0502,"lo":0.0484,"hi":0.052},
{"s":"LagrangeCBwLC/GB5","x":5000,"y":0.0487,"lo":0.0469,"hi":0.0505},
{"s":"LagrangeCBwLC/GB5","x":6000,"y":0.0476,"lo":0.0458,"hi":0.0494},
{"s":"LagrangeCBwLC/GB5","x":7000,"y":0.0466,"lo":0.0448,"hi":0.0484},
{"s":"LagrangeCBwLC/GB5","x":8000,"y":0.0456,"lo":0.0438,"hi":0.0474},
{"s":"LagrangeCBwLC/GB5","x":9000,"y":0.0453,"lo":0.0435,"hi":0.0471},
{"s":"LagrangeCBwLC/GB5","x":10000,"y":0.0449,"lo":0.0431,"hi":0.0467},
{"s":"LOE2D/GB5","x":0,"y":0.0186,"lo":0.0156,"hi":0.0216},
{"s":"LOE2D/GB5","x":30,"y":0.04,"lo":0.037,"hi":0.043},
{"s":"LOE2D/GB5","x":60,"y":0.045,"lo":0.042,"hi":0.048},
{"s":"LOE2D/GB5","x":100,"y":0.0445,"lo":0.0415,"hi":0.0475},
{"s":"LOE2D/GB5","x":150,"y":0.046,"lo":0.043,"hi":0.049},
{"s":"LOE2D/GB5","x":200,"y":0.0465,"lo":0.0435,"hi":0.0495},
{"s":"LOE2D/GB5","x":300,"y":0.0462,"lo":0.0432,"hi":0.0492},
{"s":"LOE2D/GB5","x":400,"y":0.044,"lo":0.041,"hi":0.047},
{"s":"LOE2D/GB5","x":500,"y":0.0415,"lo":0.0385,"hi":0.0445},
{"s":"LOE2D/GB5","x":600,"y":0.039,"lo":0.036,"hi":0.042},
{"s":"LOE2D/GB5","x":800,"y":0.0365,"lo":0.0335,"hi":0.0395},
{"s":"LOE2D/GB5","x":1000,"y":0.0335,"lo":0.0305,"hi":0.0365},
{"s":"LOE2D/GB5","x":1200,"y":0.0316,"lo":0.0286,"hi":0.0346},
{"s":"LOE2D/GB5","x":1500,"y":0.0278,"lo":0.0248,"hi":0.0308},
{"s":"LOE2D/GB5","x":2000,"y":0.0224,"lo":0.0209,"hi":0.0239},
{"s":"LOE2D/GB5","x":2500,"y":0.0186,"lo":0.0171,"hi":0.0201},
{"s":"LOE2D/GB5","x":3000,"y":0.0148,"lo":0.0133,"hi":0.0163},
{"s":"LOE2D/GB5","x":3500,"y":0.0125,"lo":0.011,"hi":0.014},
{"s":"LOE2D/GB5","x":4000,"y":0.0113,"lo":0.0098,"hi":0.0128},
{"s":"LOE2D/GB5","x":5000,"y":0.0095,"lo":0.008,"hi":0.011},
{"s":"LOE2D/GB5","x":6000,"y":0.0072,"lo":0.0057,"hi":0.0087},
{"s":"LOE2D/GB5","x":7000,"y":0.006,"lo":0.0045,"hi":0.0075},
{"s":"LOE2D/GB5","x":8000,"y":0.0047,"lo":0.0032,"hi":0.0062},
{"s":"LOE2D/GB5","x":9000,"y":0.0038,"lo":0.0023,"hi":0.0053},
{"s":"LOE2D/GB5","x":10000,"y":0.0032,"lo":0.0017,"hi":0.0047}
]
}
}
